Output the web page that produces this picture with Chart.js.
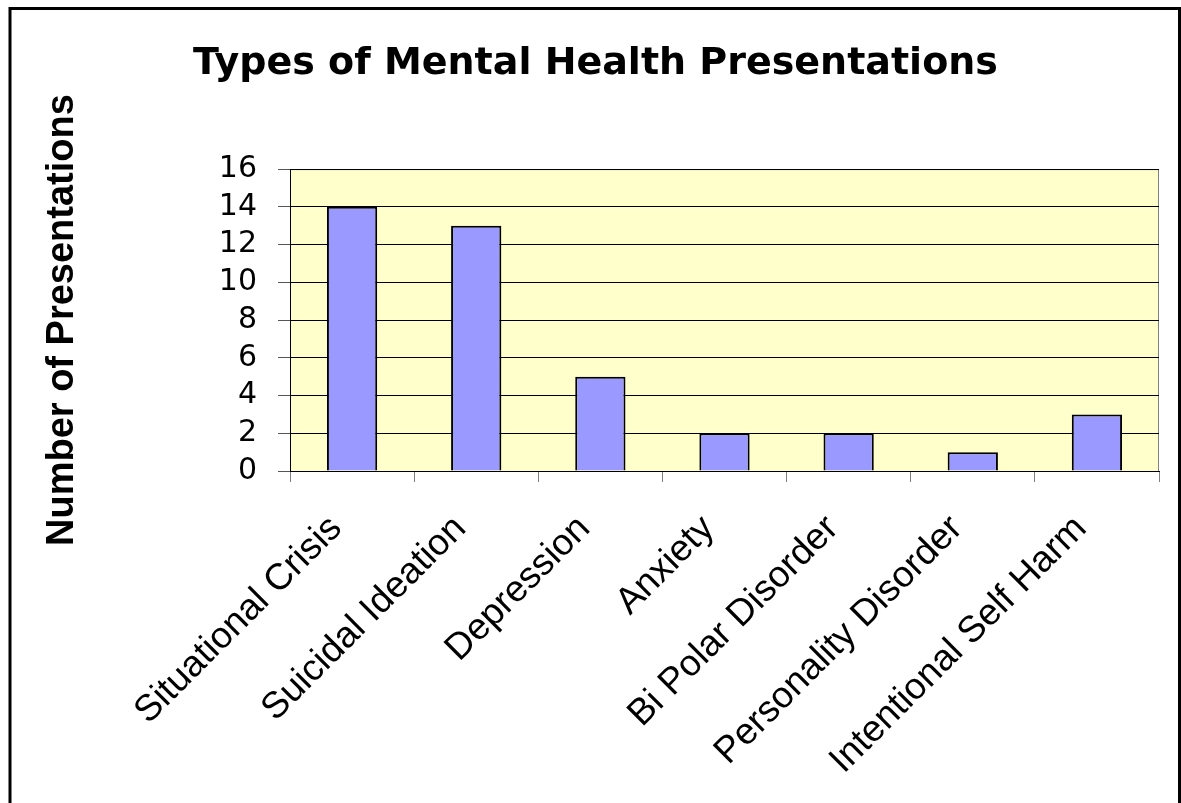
<!DOCTYPE html>
<html>
<head>
<meta charset="utf-8">
<script src="https://cdn.jsdelivr.net/npm/chart.js@4.4.1/dist/chart.umd.min.js"></script>
<style>
  html, body { margin: 0; padding: 0; background: #fff; }
  #wrap { position: relative; width: 1181px; height: 803px; }
</style>
</head>
<body>
<div id="wrap"><canvas id="c" width="1181" height="803"></canvas></div>
<script>
const chartTitle = 'Types of Mental Health Presentations';
const yAxisTitle = 'Number of Presentations';
const categories = ['Situational Crisis', 'Suicidal Ideation', 'Depression', 'Anxiety', 'Bi Polar Disorder', 'Personality Disorder', 'Intentional Self Harm'];
const presentations = [14, 13, 5, 2, 2, 1, 3];
const yTicks = [0, 2, 4, 6, 8, 10, 12, 14, 16];

const ARIAL = '"Liberation Sans", Arial, sans-serif';
const WIDE = '"DejaVu Sans", "Liberation Sans", Arial, sans-serif';

const framePlugin = {
  id: 'frame',
  beforeDraw(chart) {
    const { ctx, chartArea: a } = chart;
    ctx.save();
    ctx.fillStyle = '#fff';
    ctx.fillRect(0, 0, chart.width, chart.height);
    ctx.fillStyle = '#FFFFCC';
    ctx.fillRect(a.left, a.top, a.right - a.left, a.bottom - a.top);
    ctx.strokeStyle = '#808080';
    ctx.lineWidth = 1;
    ctx.beginPath();
    ctx.moveTo(a.left, a.top + 0.5);
    ctx.lineTo(a.right - 0.5, a.top + 0.5);
    ctx.lineTo(a.right - 0.5, a.bottom);
    ctx.stroke();
    ctx.restore();
  },
  afterDraw(chart) {
    const { ctx } = chart;
    ctx.save();
    ctx.strokeStyle = '#000';
    ctx.lineWidth = 3;
    ctx.strokeRect(10, 8.5, 1169.5, 820);
    ctx.restore();
  }
};

new Chart(document.getElementById('c'), {
  type: 'bar',
  data: {
    labels: categories,
    datasets: [{
      data: presentations,
      backgroundColor: '#9999FF',
      borderColor: '#000000',
      borderWidth: 2,
      categoryPercentage: 1,
      barPercentage: 0.405
    }]
  },
  options: {
    responsive: false,
    animation: false,
    devicePixelRatio: 1,
    layout: { padding: { left: 32, right: 22, top: 0, bottom: 0 } },
    plugins: {
      legend: { display: false },
      tooltip: { enabled: false },
      title: {
        display: true,
        text: chartTitle,
        color: '#000',
        font: { family: WIDE, size: 38, weight: 'bold', lineHeight: 1.2 },
        padding: { top: 41.5, bottom: 82 }
      }
    },
    scales: {
      x: {
        grid: { display: true, drawOnChartArea: false, drawTicks: true, tickLength: 11, color: '#808080', offset: true },
        border: { display: true, color: '#000', width: 1 },
        ticks: {
          color: '#000',
          font: { family: ARIAL, size: 37 },
          maxRotation: 45, minRotation: 45,
          autoSkip: false,
          padding: 25,
          labelOffset: -16
        },
        afterFit(scale) { scale.height = 332; }
      },
      y: {
        min: 0, max: 16,
        afterBuildTicks(scale) { scale.ticks = yTicks.map(v => ({ value: v })); },
        grid: { display: true, color: '#000', lineWidth: 1, drawTicks: true, tickLength: 12, tickColor: '#555' },
        border: { display: true, color: '#000', width: 1 },
        ticks: {
          color: '#000',
          font: { family: WIDE, size: 30 },
          padding: 21,
          autoSkip: false
        },
        title: {
          display: true,
          text: yAxisTitle,
          color: '#000',
          font: { family: ARIAL, size: 38, weight: 'bold', lineHeight: 1.2 },
          padding: { top: 8, bottom: 0 }
        },
        afterFit(scale) { scale.width = 258; }
      }
    }
  },
  plugins: [framePlugin]
});
</script>
</body>
</html>
